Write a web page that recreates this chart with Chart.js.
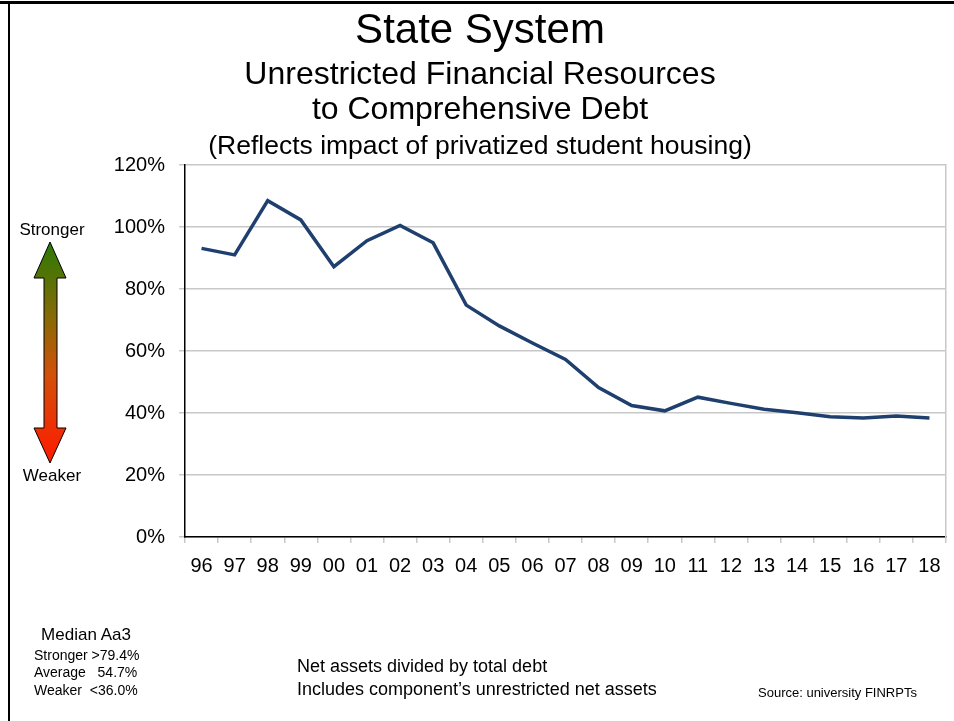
<!DOCTYPE html>
<html>
<head>
<meta charset="utf-8">
<script src="https://cdn.jsdelivr.net/npm/chart.js@4"></script>
<style>
    body {
        margin: 0;
        background: #ffffff;
        font-family: "Liberation Sans", Arial, sans-serif;
        color: #000000;
    }

    #page {
        position: relative;
        width: 954px;
        height: 721px;
        overflow: hidden;
    }

    #page canvas {
        position: absolute;
        left: 0;
        top: 0;
    }

    .txt {
        position: absolute;
        line-height: 1;
        white-space: pre;
    }

    .center {
        transform: translateX(-50%);
    }

    #topLine {
        position: absolute;
        left: 0;
        top: 1px;
        width: 954px;
        height: 3px;
        background: #000;
    }

    #leftLine {
        position: absolute;
        left: 8px;
        top: 1px;
        width: 2px;
        height: 720px;
        background: #000;
    }

    #arrow {
        position: absolute;
        left: 0;
        top: 0;
    }
</style>
</head>
<body>
<div id="page">
    <canvas id="ratioChart" width="954" height="721"></canvas>

    <div id="topLine"></div>
    <div id="leftLine"></div>

    <div class="txt center" style="left:480px; top:8px; font-size:42px;">State System</div>
    <div class="txt center" style="left:480px; top:57px; font-size:32px;">Unrestricted Financial Resources</div>
    <div class="txt center" style="left:480px; top:92px; font-size:32px;">to Comprehensive Debt</div>
    <div class="txt center" style="left:480px; top:132px; font-size:26.5px;">(Reflects impact of privatized student housing)</div>

    <svg id="arrow" width="120" height="721">
        <defs>
            <linearGradient id="arrowFill" x1="0" y1="0" x2="0" y2="1">
                <stop offset="0" stop-color="#2A7A05"/>
                <stop offset="0.35" stop-color="#8A6A05"/>
                <stop offset="0.6" stop-color="#D2500A"/>
                <stop offset="1" stop-color="#FF1A00"/>
            </linearGradient>
        </defs>
        <polygon
            points="50,242 66,278 57,278 57,428 66,428 50,463 34,428 44,428 44,278 34,278"
            fill="url(#arrowFill)"
            stroke="#000"
            stroke-width="1"/>
    </svg>

    <div class="txt center" style="left:52px; top:221px; font-size:17px;">Stronger</div>
    <div class="txt center" style="left:52px; top:467px; font-size:17px;">Weaker</div>

    <div class="txt center" style="left:86px; top:626px; font-size:17px;">Median Aa3</div>
    <div class="txt" style="left:34px; top:648px; font-size:14px;">Stronger &gt;79.4%</div>
    <div class="txt" style="left:34px; top:665px; font-size:14px;">Average   54.7%</div>
    <div class="txt" style="left:34px; top:683px; font-size:14px;">Weaker  &lt;36.0%</div>

    <div class="txt" style="left:297px; top:657px; font-size:18px;">Net assets divided by total debt</div>
    <div class="txt" style="left:297px; top:680px; font-size:18px;">Includes component’s unrestricted net assets</div>

    <div class="txt" style="left:758px; top:686px; font-size:13px;">Source: university FINRPTs</div>
</div>

<script>
// fiscal years (two digit)
const years = [
    "96", "97", "98", "99", "00", "01", "02", "03",
    "04", "05", "06", "07", "08", "09", "10", "11",
    "12", "13", "14", "15", "16", "17", "18"
];

// unrestricted financial resources / comprehensive debt, in %
const ratioValues = [
    93.1, 91.0, 108.5, 102.3, 87.2, 95.6, 100.5, 94.9,
    74.8, 68.1, 62.6, 57.3, 48.2, 42.4, 40.7, 45.1,
    43.1, 41.2, 40.1, 38.8, 38.4, 39.0, 38.4
];

const yTicks = [0, 20, 40, 60, 80, 100, 120];

const FONT = "'Liberation Sans', Arial, sans-serif";
const GRID = "#C8C8C8";

let ratioChart = null;

function drawChart() {

    const ctx =
        document.getElementById("ratioChart");

    ratioChart = new Chart(ctx, {
        type: "line",
        data: {
            labels: years,
            datasets: [{
                label: "Ratio",
                data: ratioValues,
                borderColor: "#1F3F6E",
                borderWidth: 3.5,
                pointRadius: 0,
                tension: 0,
                fill: false
            }]
        },
        options: {
            responsive: false,
            animation: false,
            layout: {
                padding: { top: 165, left: 0, right: 0, bottom: 0 }
            },
            plugins: {
                legend: { display: false },
                tooltip: { enabled: false },
                title: { display: false }
            },
            scales: {
                x: {
                    offset: true,
                    afterFit: scale => { scale.height = 184; },
                    grid: {
                        offset: true,
                        drawOnChartArea: false,
                        drawTicks: true,
                        tickLength: 6,
                        color: GRID,
                        lineWidth: 1.5
                    },
                    border: { color: "#000", width: 1.5 },
                    ticks: {
                        color: "#000",
                        padding: 11,
                        maxRotation: 0,
                        autoSkip: false,
                        font: { family: FONT, size: 20 }
                    }
                },
                y: {
                    position: "left",
                    min: yTicks[0],
                    max: yTicks[yTicks.length - 1],
                    afterFit: scale => { scale.width = 185; },
                    afterBuildTicks: scale => {
                        scale.ticks = yTicks.map(v => ({ value: v }));
                    },
                    grid: {
                        color: GRID,
                        lineWidth: 1.5,
                        tickLength: 6
                    },
                    border: { color: "#000", width: 1.5 },
                    ticks: {
                        color: "#000",
                        padding: 14,
                        font: { family: FONT, size: 20 },
                        callback: v => v + "%"
                    }
                },
                yRight: {
                    type: "linear",
                    position: "right",
                    min: 0,
                    max: 120,
                    afterFit: scale => { scale.width = 8; },
                    grid: { drawOnChartArea: false, drawTicks: false },
                    border: { color: GRID, width: 1.5 },
                    ticks: { display: false }
                }
            }
        }
    });
}

drawChart();
</script>
</body>
</html>
